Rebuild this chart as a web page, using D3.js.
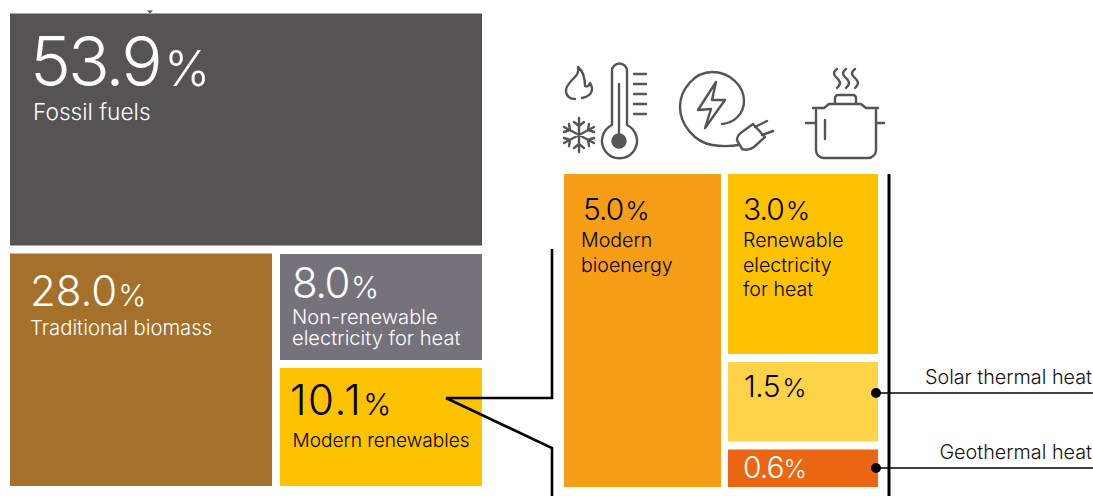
<!DOCTYPE html>
<html lang="en">
<head>
    <meta charset="UTF-8">
    <title>Heat energy shares</title>
    <script src="https://d3js.org/d3.v7.min.js"></script>
    <style>
        body { margin: 0; background: #fff; }
        svg { display: block; }
        text { font-family: Inter, Roboto, Arial, sans-serif; }
    </style>
</head>
<body>
<div id="chart"></div>
<script>
    // Left block: shares of total heat
    const mainNames = [["Fossil fuels"], ["Traditional biomass"], ["Non-renewable", "electricity for heat"], ["Modern renewables"]];
    const mainValues = [53.9, 28.0, 8.0, 10.1];
    const mainColors = ["#565354", "#a5702a", "#75727b", "#ffc200"];

    // Right block: breakdown of modern renewables
    const modernNames = [["Modern", "bioenergy"], ["Renewable", "electricity", "for heat"], [], []];
    const modernValues = [5.0, 3.0, 1.5, 0.6];
    const modernColors = ["#f59e16", "#ffc200", "#ffd347", "#ea6612"];
    const calloutNames = ["Solar thermal heat", "Geothermal heat"];

    const width = 1093, height = 496;
    const svg = d3.select("#chart").append("svg").attr("width", width).attr("height", height);

    // The original is not drawn to scale, so the scales are piecewise on cumulative shares
    const rest = mainValues[1] + mainValues[2] + mainValues[3];
    const yMain = d3.scaleLinear().domain([0, mainValues[0], 100]).range([13.5, 249.5, 486]);
    const xMain = d3.scaleLinear().domain([0, mainValues[1], rest]).range([10, 276, 482]);
    const yCol = d3.scaleLinear().domain([0, mainValues[2], mainValues[2] + mainValues[3]]).range([254, 364, 486]);

    const modernTotal = d3.sum(modernValues);
    const stack = modernValues.slice(1);
    const xModern = d3.scaleLinear().domain([0, modernValues[0], modernTotal]).range([564, 724.5, 878]);
    const yModern = d3.scaleLinear()
        .domain([0, stack[0], stack[0] + stack[1], d3.sum(stack)])
        .range([174, 358, 445.5, 487]);

    function cell(x0, y0, x1, y1, color) {
        svg.append("rect").attr("x", x0).attr("y", y0).attr("width", x1 - x0).attr("height", y1 - y0).attr("fill", color);
    }

    function label(value, names, o) {
        const t = svg.append("text").attr("x", o.x).attr("y", o.y).attr("fill", o.color)
            .attr("font-weight", o.weight || 300).attr("font-size", o.size)
            .attr("letter-spacing", o.track || 0);
        t.append("tspan").text(value.toFixed(1));
        t.append("tspan").attr("dx", o.gap || 0).attr("font-size", o.pct).text("%");
        names.forEach((name, i) => {
            svg.append("text").attr("x", o.nameX).attr("y", o.nameY + i * o.lead).attr("fill", o.color)
                .attr("font-size", o.nameSize).attr("font-weight", o.nameWeight || 300).text(name);
        });
    }

    // left block
    cell(xMain(0), yMain(0), xMain(rest), yMain(mainValues[0]) - 4, mainColors[0]);
    cell(xMain(0), yMain(mainValues[0]) + 4, xMain(mainValues[1]) - 4, yMain(100), mainColors[1]);
    cell(xMain(mainValues[1]) + 4, yCol(0), xMain(rest), yCol(mainValues[2]) - 4, mainColors[2]);
    cell(xMain(mainValues[1]) + 4, yCol(mainValues[2]) + 4, xMain(rest), yCol(mainValues[2] + mainValues[3]), mainColors[3]);

    // right block
    cell(xModern(0), yModern(0), xModern(modernValues[0]) - 3.5, yModern(d3.sum(stack)), modernColors[0]);
    let acc = 0;
    stack.forEach((v, i) => {
        cell(xModern(modernValues[0]) + 3.5, yModern(acc) + (i ? 4 : 0), xModern(modernTotal),
            yModern(acc + v) - (i < 2 ? 4 : 0), modernColors[i + 1]);
        acc += v;
    });

    label(mainValues[0], mainNames[0], {x: 30, y: 86, color: "#fff", size: 69, pct: 49, gap: 4.5, track: -3, nameX: 33, nameY: 120, lead: 0, nameSize: 22.7});
    label(mainValues[1], mainNames[1], {x: 30, y: 306, color: "#fff", size: 42, pct: 30, gap: 1, track: 0, nameX: 30, nameY: 335, lead: 0, nameSize: 20.3});
    label(mainValues[2], mainNames[2], {x: 292, y: 298, color: "#fff", size: 42, pct: 30, gap: 2, track: -1.5, nameX: 292, nameY: 324, lead: 21, nameSize: 20.1});
    label(mainValues[3], mainNames[3], {x: 290, y: 415, color: "#000", size: 42, pct: 30, gap: 1, track: 1.5, nameX: 292.5, nameY: 447, lead: 0, nameSize: 19.1, nameWeight: 350});

    const nameOpts = {color: "#000", size: 30, pct: 26, gap: 2, track: -1, weight: 350, nameWeight: 350, lead: 24.5, nameSize: 19.6};
    label(modernValues[0], modernNames[0], {...nameOpts, x: 583, y: 220, nameX: 581, nameY: 247});
    label(modernValues[1], modernNames[1], {...nameOpts, x: 743, y: 220, nameX: 743, nameY: 247});
    label(modernValues[2], [], {...nameOpts, x: 744, y: 397, weight: 300, track: -0.5});
    label(modernValues[3], [], {...nameOpts, x: 743, y: 478, color: "#fff", weight: 350, gap: 0, pct: 25});

    // connector between the blocks
    const line = d3.line();
    svg.append("path").attr("fill", "none").attr("stroke", "#000").attr("stroke-width", 2.6)
        .attr("d", line([[552, 249], [552, 398], [446, 398], [552, 448], [552, 496]]));
    svg.append("path").attr("stroke", "#000").attr("stroke-width", 3).attr("d", line([[889, 174], [889, 496]]));

    // callouts
    calloutNames.forEach((name, i) => {
        const y = [393, 468][i];
        svg.append("circle").attr("cx", 876).attr("cy", y).attr("r", 5).attr("fill", "#000");
        svg.append("path").attr("stroke", "#000").attr("stroke-width", 1.6).attr("d", line([[876, y], [1093, y]]));
        svg.append("text").attr("x", 1092).attr("y", y - 9).attr("text-anchor", "end")
            .attr("font-size", 19.8).attr("font-weight", 300).attr("fill", "#111").text(name);
    });

    // triangle at the top of the fossil block
    svg.append("path").attr("fill", "#555").attr("d", "M147 10.5h6l-3 3z");

    // icons
    const icons = svg.append("g").attr("fill", "none").attr("stroke", "#555").attr("stroke-width", 2.4)
        .attr("stroke-linecap", "round").attr("stroke-linejoin", "round");

    // thermometer
    icons.append("path").attr("d", "M612 125V71a7.5 7.5 0 0 1 15 0V125a17.5 17.5 0 1 1 -15 0Z");
    icons.append("path").attr("d", "M619 84V140");
    icons.append("circle").attr("cx", 619).attr("cy", 141).attr("r", 6.5).attr("fill", "#555");
    [74, 84, 94, 104, 114].forEach(y => icons.append("path").attr("d", `M634 ${y}H646`));
    // flame
    icons.append("path").attr("d", "M578 67c1 6 -1 8 -5 12c-5 5 -8 9 -7 13c1 5 5 7 9 7M582 98c5 -1 10 -4 10 -9c0 -3 -1 -4 -2 -6c-1 3 -3 4 -5 3c0 -7 -1 -14 -7 -19");
    // snowflake
    icons.append("path").attr("d", "M579 118V152M564 127L594 143M564 143L594 127M574 122l5 4l5 -4M574 148l5 -4l5 4M564 132l6 -2l-1 -6M594 132l-6 -2l1 -6M564 138l6 2l-1 6M594 138l-6 2l1 6");
    // plug with cord
    icons.append("path").attr("d", "M739 145C733 146 724 147 712 145C695 142 680 125 680 107C680 89 695 72 712 72C730 72 744 86 744 101C744 114 734 123 722 124");
    icons.append("path").attr("d", "M716 82L698 110L711 109L705 128L725 100L712 100Z");
    icons.append("path").attr("d", "M753 124L765 137L754 147C750 150 745 150 742 149C741 146 738 143 737 140C737 137 739 134 742 132Z");
    icons.append("path").attr("d", "M755 127L767 121M762 135L773 131");
    // pot
    icons.append("path").attr("d", "M816 110V150a8 8 0 0 0 8 8H868a8 8 0 0 0 8 -8V110");
    icons.append("path").attr("d", "M813 108H824L829 104H861L866 108H878");
    icons.append("path").attr("d", "M835 103V98a3 3 0 0 1 3 -3H853a3 3 0 0 1 3 3V103");
    icons.append("path").attr("d", "M806 123H816M876 123H884M825 120V139");
    [837, 846, 855].forEach(x => icons.append("path").attr("d", `M${x} 69c-4 3 -4 6 0 9c4 4 4 6 0 10`));
</script>
</body>
</html>
